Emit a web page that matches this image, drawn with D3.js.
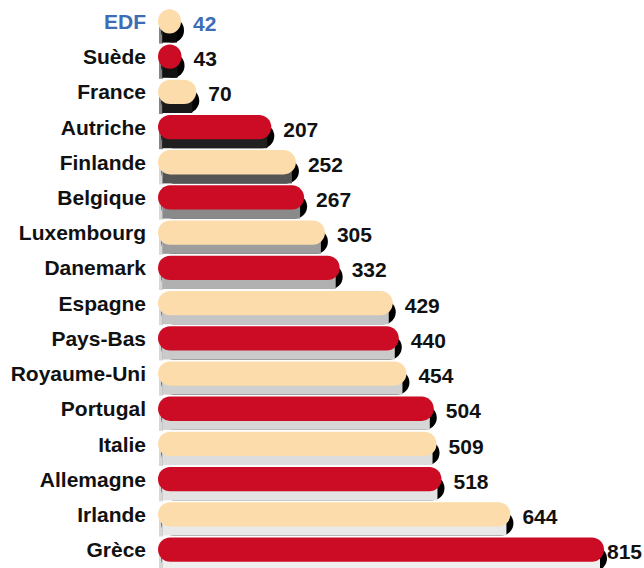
<!DOCTYPE html>
<html>
<head>
<meta charset="utf-8">
<script src="https://cdn.jsdelivr.net/npm/d3@7"></script>
<style>
  body { margin: 0; background: #fff; }
  text { font-family: "Liberation Sans", Arial, sans-serif; font-weight: bold; }
</style>
</head>
<body>
<div id="fig"></div>
<script>
// countries, top to bottom
var countries = ["EDF", "Suède", "France", "Autriche", "Finlande", "Belgique", "Luxembourg",
  "Danemark", "Espagne", "Pays-Bas", "Royaume-Uni", "Portugal", "Italie", "Allemagne", "Irlande", "Grèce"]
var values = [42, 43, 70, 207, 252, 267, 305, 332, 429, 440, 454, 504, 509, 518, 644, 815]

var data = countries.map(function(c, i) { return {name: c, value: values[i], i: i} })

var width = 644, height = 568
var x0 = 158

var svg = d3.select("#fig").append("svg")
    .attr("width", width)
    .attr("height", height)

// scales
var y = d3.scaleBand()
    .domain(countries)
    .range([4, 567])
    .paddingInner(0.31)
    .paddingOuter(0.15)

var x = d3.scaleLinear()
    .domain([0, 815])
    .range([0, 446])

var bh = y.bandwidth()

// shadow shade goes from black (top) to very light grey (bottom)
var shade = d3.scaleLinear()
    .domain([0, 3, 5, 8, 15])
    .range(["#0a0a0a", "#202020", "#8a8a8a", "#c4c4c4", "#efefef"])

function barW(d) { return Math.max(x(d.value), bh * 0.85) }

var rows = svg.append("g").selectAll("g")
    .data(data)
    .enter().append("g")
      .attr("transform", function(d) { return "translate(" + x0 + "," + y(d.name) + ")" })

// extrusion: black end cap behind
rows.append("rect")
    .attr("x", 3)
    .attr("y", 9)
    .attr("width", function(d) { return barW(d) })
    .attr("height", bh)
    .attr("rx", function(d) { return Math.min(bh / 2, barW(d) / 2) })
    .attr("ry", bh / 2)
    .attr("fill", "#000")

// extrusion: grey side
rows.append("rect")
    .attr("x", 4)
    .attr("y", bh / 2)
    .attr("width", function(d) { return Math.max(barW(d) - 8, 0) })
    .attr("height", bh / 2 + 9)
    .attr("fill", function(d) { return shade(d.i) })

// faint left edge
rows.append("rect")
    .attr("x", 1)
    .attr("y", bh / 2)
    .attr("width", 4)
    .attr("height", bh / 2 + 10)
    .attr("fill", function(d) { return d.i < 4 ? "#333" : "#bdbdbd" })
    .attr("opacity", 0.6)

// bars
rows.append("rect")
    .attr("x", 0)
    .attr("y", 0)
    .attr("width", barW)
    .attr("height", bh)
    .attr("rx", function(d) { return Math.min(bh / 2, barW(d) / 2) })
    .attr("ry", bh / 2)
    .attr("fill", function(d) { return d.i % 2 == 0 ? "#fcdcaa" : "#cc0b24" })

// country labels
svg.append("g").selectAll("text")
    .data(data)
    .enter().append("text")
      .attr("x", 146)
      .attr("y", function(d) { return y(d.name) + bh / 2 })
      .attr("dy", "0.36em")
      .attr("text-anchor", "end")
      .style("font-size", "21px")
      .attr("fill", function(d) { return d.i == 0 ? "#3d6db5" : "#111" })
      .text(function(d) { return d.name })

// value labels
svg.append("g").selectAll("text")
    .data(data)
    .enter().append("text")
      .attr("x", function(d) { return x0 + barW(d) + (d.i == 15 ? 3 : 12) })
      .attr("y", function(d) { return y(d.name) + bh / 2 + 2 })
      .attr("dy", "0.36em")
      .style("font-size", "21px")
      .attr("fill", function(d) { return d.i == 0 ? "#3d6db5" : "#111" })
      .text(function(d) { return d.value })
</script>
</body>
</html>
